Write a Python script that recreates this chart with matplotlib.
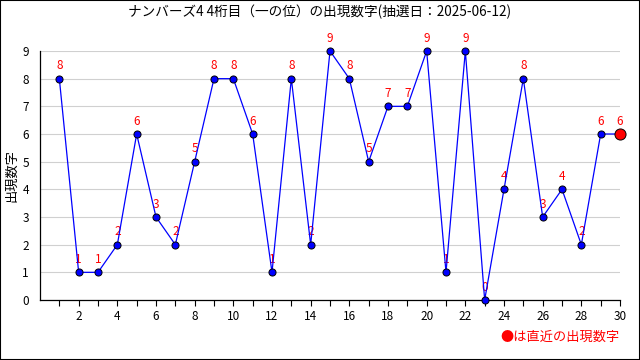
import matplotlib
matplotlib.use("Agg")
import matplotlib.pyplot as plt
import numpy as np

plt.rcParams['font.family'] = ['Noto Sans CJK JP', 'DejaVu Sans']

# 抽選回 (1..30) と出現数字
draw_no = list(range(1, 31))
digits = [8, 1, 1, 2, 6, 3, 2, 5, 8, 8, 6, 1, 8, 2, 9, 8, 5, 7, 7, 9,
          1, 9, 0, 4, 8, 3, 4, 2, 6, 6]
x_ticklabels = [str(i) for i in range(2, 31, 2)]

title = "ナンバーズ4 4桁目（一の位）の出現数字(抽選日：2025-06-12)"

fig = plt.figure(figsize=(6.4, 3.6), dpi=100)
ax = fig.add_axes([40/640, 1 - 300/360, 580/640, 249/360])

ax.plot(draw_no, digits, color='#0000ff', lw=0.9, zorder=2, clip_on=False)
ax.scatter(draw_no[:-1], digits[:-1], s=26, color='#0000ff',
           edgecolor='black', linewidth=0.7, zorder=3, clip_on=False)
ax.scatter(draw_no[-1:], digits[-1:], s=64, color='#ff0000',
           edgecolor='black', linewidth=0.7, zorder=4, clip_on=False)

for x, y in zip(draw_no, digits):
    ax.annotate(str(y), (x, y), xytext=(0, 4.5), textcoords='offset points',
                ha='center', va='bottom', color='#ff0000', fontsize=8.5, zorder=1)

ax.set_xlim(0, 30)
ax.set_ylim(0, 9)
ax.set_xticks(range(1, 31), minor=True)
ax.set_xticks(range(2, 31, 2))
ax.set_xticklabels(x_ticklabels)
ax.set_yticks(range(0, 10))
ax.tick_params(axis='x', which='both', length=4, width=0.8, labelsize=8.5, pad=3)
ax.tick_params(axis='y', length=0, labelsize=8.5, pad=8)
ax.grid(axis='y', color='#d0d0d0', lw=0.8)
ax.set_axisbelow(True)
for s in ['top', 'right']:
    ax.spines[s].set_visible(False)
ax.spines['left'].set_linewidth(0.9)
ax.spines['bottom'].set_linewidth(0.9)

fig.text(12/640, 1 - 175/360, "出現数字", rotation=90, ha='center', va='center',
         fontsize=9.5)
fig.text(0.5, 1 - 12/360, title, ha='center', va='center', fontsize=9.8)
fig.text(620/640, 1 - 337/360, "●は直近の出現数字", ha='right', va='center',
         color='#ff0000', fontsize=9.5)

fig.patches.append(plt.Rectangle((0, 0), 1, 1, transform=fig.transFigure,
                                 fill=False, edgecolor='black', lw=1.5))

fig.savefig("out.png", dpi=100)
